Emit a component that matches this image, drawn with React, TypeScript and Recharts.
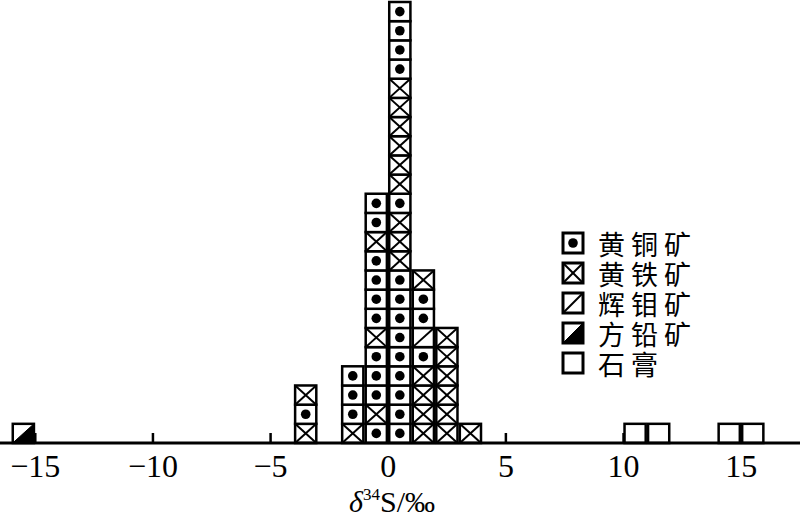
import React from 'react';
import { BarChart, Bar, XAxis, YAxis, Legend, Label } from 'recharts';

// mineral codes: C 黄铜矿, P 黄铁矿, M 辉钼矿, G 方铅矿, Y 石膏
const mineralCodes = ['C', 'P', 'M', 'G', 'Y'];
const mineralNames = ['黄铜矿', '黄铁矿', '辉钼矿', '方铅矿', '石膏'];

// lower edge of each 1‰ bin and its boxes, listed bottom to top
const binStarts = [-16, -4, -2, -1, 0, 1, 2, 3, 10, 11, 14, 15];
const binStacks = [
  'G',
  'PCP',
  'PCCC',
  'CPCCCPCCCCPCC',
  'CCCCCCCCCPPPCPPPPPPCCCC',
  'PPPPCMCCP',
  'PPPPPP',
  'P',
  'Y',
  'Y',
  'Y',
  'Y',
];
const xTicks = [-15, -10, -5, 0, 5, 10, 15];

const maxLayers = Math.max(...binStacks.map((s) => s.length));
const layers = Array.from({ length: maxLayers }, (_, k) => k);

const data: any[] = [];
for (let b = -16; b <= 16; b++) {
  const i = binStarts.indexOf(b);
  const stack = i >= 0 ? binStacks[i] : '';
  const row: any = { x: b + 0.5, stack };
  layers.forEach((k) => {
    row['l' + k] = k < stack.length ? 1 : 0;
  });
  data.push(row);
}

const W = 800;
const H = 519;
const unitPx = W / 34;

function MineralBox({ x, y, width, height, kind, sw = 2.5 }: any) {
  const cx = x + width / 2;
  const cy = y + height / 2;
  return (
    <g>
      <rect x={x} y={y} width={width} height={height} fill="#fff" stroke="#000" strokeWidth={sw} />
      {kind === 'C' && <circle cx={cx} cy={cy} r={4.8} fill="#000" />}
      {kind === 'P' && (
        <g stroke="#000" strokeWidth={2}>
          <line x1={x} y1={y} x2={x + width} y2={y + height} />
          <line x1={x} y1={y + height} x2={x + width} y2={y} />
        </g>
      )}
      {kind === 'M' && (
        <line x1={x} y1={y + height} x2={x + width} y2={y} stroke="#000" strokeWidth={2} />
      )}
      {kind === 'G' && (
        <polygon
          points={`${x},${y + height} ${x + width},${y + height} ${x + width},${y}`}
          fill="#000"
          stroke="#000"
          strokeWidth={1}
        />
      )}
    </g>
  );
}

const boxShape = (layer: number) => (props: any) => {
  const { x, y, width, height, payload } = props;
  const kind = payload && payload.stack ? payload.stack[layer] : undefined;
  if (!kind || !height) return <g />;
  return <MineralBox x={x} y={y} width={width} height={height} kind={kind} />;
};

// tick marks point up into the plot, labels sit below the axis
const AxisTick = ({ x, y, payload }: any) => {
  const v = payload.value;
  return (
    <g>
      <line x1={x} x2={x} y1={y - 10} y2={y} stroke="#000" strokeWidth={2.5} />
      <text
        x={x}
        y={y + 34}
        textAnchor="middle"
        fontFamily="Liberation Serif"
        fontSize={32}
        fill="#000"
      >
        {v < 0 ? '\u2212' + Math.abs(v) : String(v)}
      </text>
    </g>
  );
};

const AxisTitle = ({ viewBox }: any) => {
  const cx = viewBox.x + viewBox.width / 2 - 8;
  return (
    <text
      x={cx}
      y={viewBox.y + 69}
      textAnchor="middle"
      fontFamily="Liberation Serif"
      fontSize={30}
      fill="#000"
    >
      <tspan fontStyle="italic">δ</tspan>
      <tspan fontSize={17} dy={-12}>34</tspan>
      <tspan dy={12}>S/‰</tspan>
    </text>
  );
};

const LegendContent = () => (
  <svg width={200} height={180}>
    {mineralCodes.map((code, i) => (
      <g key={code}>
        <MineralBox x={3} y={15 + i * 30} width={20} height={20} kind={code} sw={3} />
        <text
          x={38}
          y={25 + i * 30}
          dominantBaseline="central"
          fontFamily="Noto Sans CJK SC"
          fontSize={27}
          letterSpacing={6}
          fill="#000"
        >
          {mineralNames[i]}
        </text>
      </g>
    ))}
  </svg>
);

export default function App() {
  return (
    <div style={{ position: 'absolute', left: 0, top: 0, width: W, height: H, background: '#fff' }}>
      <BarChart
        width={W}
        height={H}
        data={data}
        margin={{ top: 2, right: 0, bottom: 0, left: 0 }}
        barCategoryGap={0}
        barGap={0}
      >
        <XAxis
          dataKey="x"
          type="number"
          domain={[-16.5, 17.5]}
          ticks={xTicks}
          interval={0}
          height={76}
          tickSize={0}
          tickMargin={0}
          tickLine={false}
          tick={AxisTick}
          axisLine={{ stroke: '#000', strokeWidth: 3 }}
        >
          <Label content={AxisTitle} />
        </XAxis>
        <YAxis hide domain={[0, maxLayers]} />
        <Legend
          layout="vertical"
          align="center"
          verticalAlign="middle"
          content={LegendContent}
          wrapperStyle={{ position: 'absolute', left: 560, top: 218, width: 200, height: 180 }}
        />
        {layers.map((k) => (
          <Bar
            key={k}
            dataKey={'l' + k}
            stackId="a"
            barSize={unitPx}
            shape={boxShape(k)}
            isAnimationActive={false}
          />
        ))}
      </BarChart>
    </div>
  );
}
